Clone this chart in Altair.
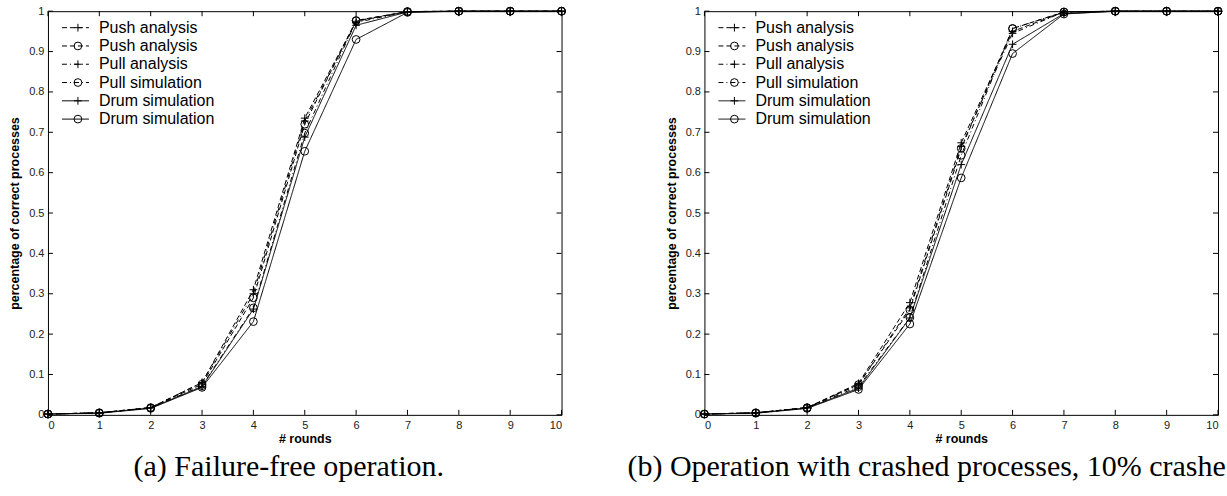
import altair as alt
import pandas as pd

# ---- data -------------------------------------------------------------
rounds = list(range(11))
series_labels = ["Push analysis", "Push analysis", "Pull analysis",
                 "Pull simulation", "Drum simulation", "Drum simulation"]

# (a) failure-free operation
a_push_plus   = [0.002, 0.005, 0.018, 0.080, 0.310, 0.735, 0.975, 0.999, 1.0, 1.0, 1.0]
a_push_circle = [0.002, 0.005, 0.018, 0.076, 0.290, 0.720, 0.977, 0.999, 1.0, 1.0, 1.0]
a_pull_plus   = [0.002, 0.005, 0.018, 0.080, 0.300, 0.728, 0.972, 0.999, 1.0, 1.0, 1.0]
a_pull_circle = [0.002, 0.005, 0.017, 0.072, 0.265, 0.698, 0.976, 0.999, 1.0, 1.0, 1.0]
a_drum_plus   = [0.002, 0.005, 0.017, 0.070, 0.262, 0.688, 0.965, 0.998, 1.0, 1.0, 1.0]
a_drum_circle = [0.002, 0.004, 0.016, 0.068, 0.231, 0.653, 0.930, 0.997, 1.0, 1.0, 1.0]

# (b) 10% crashed processes
b_push_plus   = [0.002, 0.005, 0.018, 0.078, 0.278, 0.674, 0.950, 0.998, 1.0, 1.0, 1.0]
b_push_circle = [0.002, 0.005, 0.018, 0.075, 0.260, 0.660, 0.957, 0.998, 1.0, 1.0, 1.0]
b_pull_plus   = [0.002, 0.005, 0.018, 0.075, 0.265, 0.665, 0.945, 0.998, 1.0, 1.0, 1.0]
b_pull_circle = [0.002, 0.005, 0.017, 0.070, 0.241, 0.643, 0.957, 0.998, 1.0, 1.0, 1.0]
b_drum_plus   = [0.002, 0.005, 0.017, 0.066, 0.240, 0.620, 0.918, 0.994, 1.0, 1.0, 1.0]
b_drum_circle = [0.002, 0.004, 0.016, 0.063, 0.225, 0.587, 0.895, 0.993, 1.0, 1.0, 1.0]

x_ticks = list(range(11))
y_ticks = [i / 10 for i in range(11)]

caption_a = "(a) Failure-free operation."
caption_b = "(b) Operation with crashed processes, 10% crashes."

# ---- styling ------------------------------------------------------------
W, H = 514, 404
TICK = 5
sids = ["s0", "s1", "s2", "s3", "s4", "s5"]
dashes = [[5, 3], [5, 3], [5, 3, 1, 3], [5, 3, 1, 3], [1, 0], [1, 0]]
PLUS = "M-1,0H1M0,-1V1"
shapes = [PLUS, "circle", PLUS, "circle", PLUS, "circle"]
dash_scale = alt.Scale(domain=sids, range=dashes)
shape_scale = alt.Scale(domain=sids, range=shapes)
FONT = "Liberation Sans"
MARK_SIZE = 60
LEG_Y0, LEG_DY = 16.5, 18.3
CAP_Y = 456
one_row = pd.DataFrame({"k": [0]})


def legend_layers():
    # legend drawn row by row in the upper-left corner of the plot
    out = []
    for i, (label, dash, shape) in enumerate(zip(series_labels, dashes, shapes)):
        y = LEG_Y0 + LEG_DY * i
        out.append(alt.Chart(one_row).mark_rule(color="black", strokeWidth=1, strokeDash=dash).encode(
            x=alt.value(14), x2=alt.value(41), y=alt.value(y)))
        out.append(alt.Chart(one_row).mark_point(color="black", filled=False, strokeWidth=1,
                                                 size=MARK_SIZE, opacity=1, shape=shape).encode(
            x=alt.value(30), y=alt.value(y)))
        out.append(alt.Chart(one_row).mark_text(align="left", baseline="middle", font=FONT,
                                                fontSize=16, color="black", text=label).encode(
            x=alt.value(51), y=alt.value(y)))
    return out


def panel(series, caption, cap_x, cap_align, cap_limit):
    rows = []
    for sid, vals in zip(sids, series):
        for r, v in zip(rounds, vals):
            rows.append({"sid": sid, "round": r, "value": v})
    df = pd.DataFrame(rows)

    xs = alt.Scale(domain=[0, 10], nice=False)
    ys = alt.Scale(domain=[0, 1], nice=False)

    lines = alt.Chart(df).mark_line(color="black", strokeWidth=1).encode(
        x=alt.X("round:Q", scale=xs, title="# rounds",
                axis=alt.Axis(values=x_ticks, format="d", labelPadding=5, titlePadding=2)),
        y=alt.Y("value:Q", scale=ys, title="percentage of correct processes",
                axis=alt.Axis(values=y_ticks, format="~g", labelPadding=4, titlePadding=7)),
        detail="sid:N",
        strokeDash=alt.StrokeDash("sid:N", scale=dash_scale, legend=None),
    )
    points = alt.Chart(df).mark_point(color="black", filled=False, strokeWidth=1,
                                      size=MARK_SIZE, opacity=1).encode(
        x=alt.X("round:Q", scale=xs),
        y=alt.Y("value:Q", scale=ys),
        shape=alt.Shape("sid:N", scale=shape_scale, legend=None),
    )

    # inward ticks on all four sides of the frame
    xt = pd.DataFrame({"round": x_ticks})
    yt = pd.DataFrame({"value": y_ticks})
    tick_bottom = alt.Chart(xt).mark_rule(color="black").encode(
        x=alt.X("round:Q", scale=xs), y=alt.value(H), y2=alt.value(H - TICK))
    tick_top = alt.Chart(xt).mark_rule(color="black").encode(
        x=alt.X("round:Q", scale=xs), y=alt.value(0), y2=alt.value(TICK))
    tick_left = alt.Chart(yt).mark_rule(color="black").encode(
        y=alt.Y("value:Q", scale=ys), x=alt.value(0), x2=alt.value(TICK))
    tick_right = alt.Chart(yt).mark_rule(color="black").encode(
        y=alt.Y("value:Q", scale=ys), x=alt.value(W), x2=alt.value(W - TICK))

    cap = alt.Chart(one_row).mark_text(
        align=cap_align, baseline="middle", font="Liberation Serif", fontSize=30,
        color="black", limit=cap_limit, ellipsis="\u200b", text=caption,
    ).encode(x=alt.value(cap_x), y=alt.value(CAP_Y))

    return alt.layer(lines, points, tick_bottom, tick_top, tick_left, tick_right,
                     *legend_layers(), cap).properties(width=W, height=H)


left = panel([a_push_plus, a_push_circle, a_pull_plus, a_pull_circle, a_drum_plus, a_drum_circle],
             caption_a, 241, "center", 1000)
right = panel([b_push_plus, b_push_circle, b_pull_plus, b_pull_circle, b_drum_plus, b_drum_circle],
              caption_b, -77, "left", 600)

chart = alt.hconcat(left, right, spacing=143, bounds="flush").properties(
    padding={"left": 8, "top": 4, "right": 0, "bottom": 0},
    background="white",
).configure_view(stroke="black", strokeWidth=1).configure_axis(
    domain=False, ticks=False, grid=False,
    labelFont=FONT, labelFontSize=11, labelColor="#222",
    titleFont=FONT, titleFontSize=12.5, titleFontWeight="bold", titleColor="black",
)

chart.save("out.html", embed_options={"renderer": "svg", "actions": False})
